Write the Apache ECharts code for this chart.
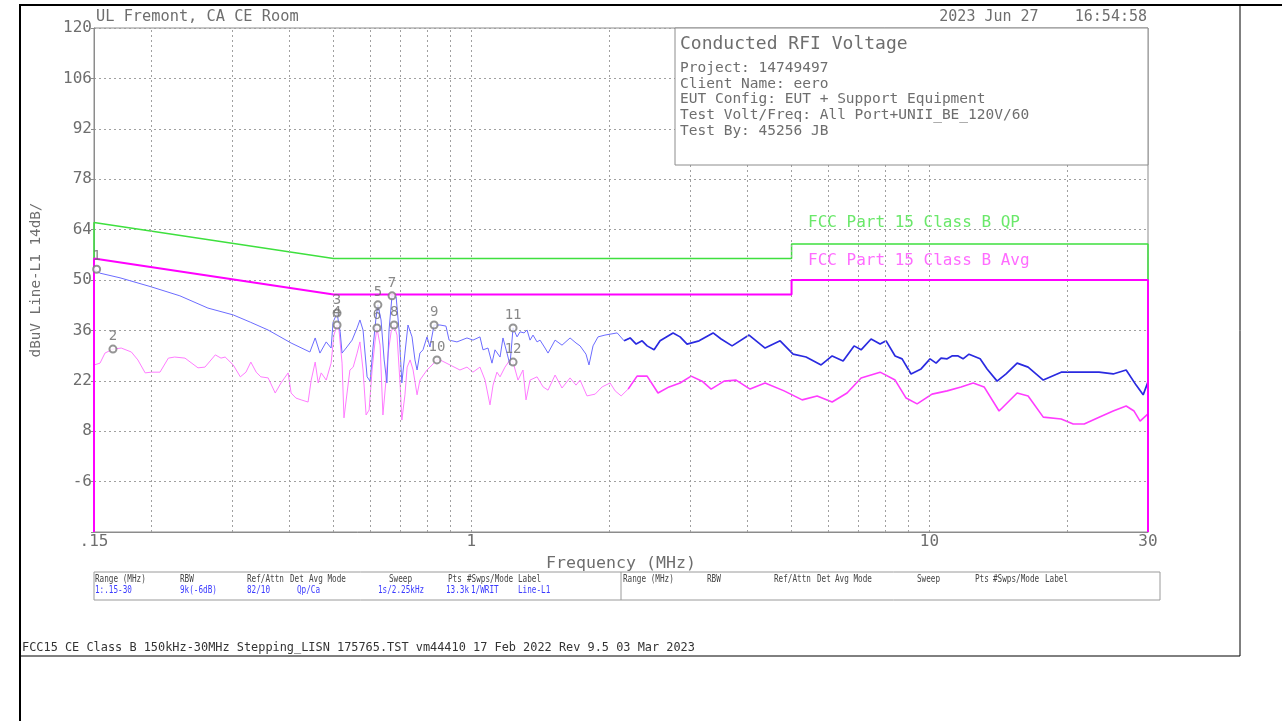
<!DOCTYPE html>
<html>
<head>
<meta charset="utf-8">
<title>Conducted RFI Voltage</title>
<script src="https://cdn.jsdelivr.net/npm/echarts@6/dist/echarts.min.js"></script>
<style>
  html, body { margin: 0; padding: 0; background: #fff; }
  #chart { width: 1282px; height: 721px; }
</style>
</head>
<body>
<div id="chart"></div>
<script>
// ---- Measured data (frequency in MHz, level in dBuV) ----
const blueTrace = [
  [0.150,53.0],[0.1546,51.9],[0.171,50.6],[0.200,48.1],[0.231,45.6],[0.266,42.2],[0.302,40.3],[0.329,38.3],
  [0.360,36.1],[0.404,32.5],[0.444,30.0],[0.456,33.9],[0.467,29.7],[0.482,32.8],[0.494,31.1],[0.499,38.3],
  [0.509,40.8],[0.517,35.6],[0.522,29.7],[0.535,31.4],[0.549,33.3],[0.563,36.7],[0.571,38.9],[0.580,36.1],
  [0.592,23.1],[0.601,21.9],[0.610,31.4],[0.619,39.4],[0.625,43.1],[0.635,38.9],[0.645,27.8],[0.654,21.4],
  [0.661,36.1],[0.671,45.6],[0.685,45.3],[0.695,36.1],[0.705,21.4],[0.716,29.7],[0.727,37.5],[0.742,34.2],
  [0.753,27.8],[0.761,25.0],[0.772,29.7],[0.784,30.6],[0.800,34.2],[0.812,31.4],[0.829,37.5],[0.854,37.5],
  [0.880,37.2],[0.894,33.3],[0.930,32.8],[0.978,33.9],[1.008,33.3],[1.044,34.2],[1.060,30.6],[1.087,31.1],
  [1.109,26.9],[1.126,30.6],[1.155,28.6],[1.172,33.9],[1.196,29.7],[1.214,26.4],[1.233,36.7],[1.258,34.2],
  [1.277,35.6],[1.303,35.3],[1.323,36.1],[1.343,33.3],[1.363,34.7],[1.391,32.8],[1.412,33.3],[1.448,31.1],
  [1.470,29.7],[1.523,33.3],[1.577,31.9],[1.642,33.9],[1.692,32.5],[1.727,31.7],[1.779,29.4],[1.806,26.4],
  [1.843,31.7],[1.890,34.2],[1.957,34.7],[2.081,35.3],[2.155,33.1],[2.221,33.9],[2.289,32.2],[2.359,33.1],
  [2.419,31.7],[2.505,30.6],[2.582,33.1],[2.756,35.3],[2.855,34.2],[2.957,32.2],[3.141,33.1],[3.370,35.3],
  [3.509,33.6],[3.708,31.7],[4.038,34.7],[4.377,31.1],[4.721,33.1],[5.039,29.4],[5.378,28.6],[5.801,26.4],
  [6.132,28.9],[6.479,27.5],[6.846,31.7],[7.092,30.6],[7.457,33.6],[7.803,32.2],[8.042,33.1],[8.414,28.9],
  [8.715,28.1],[9.117,23.9],[9.588,25.3],[10.03,28.1],[10.34,26.9],[10.60,28.3],[10.93,28.1],[11.20,28.9],
  [11.55,28.9],[11.84,28.1],[12.20,29.4],[12.90,28.1],[13.36,25.3],[14.05,21.9],[14.70,23.9],[15.54,26.9],
  [16.42,25.8],[17.72,22.2],[19.39,24.4],[21.33,24.4],[23.46,24.4],[25.18,23.9],[26.88,25.0],[28.26,20.8],
  [29.28,18.1],[30.0,21.7]
];

const pinkTrace = [
  [0.150,26.4],[0.1546,26.9],[0.1585,29.7],[0.165,30.8],[0.172,31.1],[0.181,30.0],[0.187,27.8],[0.194,24.2],
  [0.200,24.4],[0.209,24.4],[0.218,28.3],[0.225,28.6],[0.237,28.3],[0.253,25.6],[0.262,25.8],[0.276,29.2],
  [0.284,28.3],[0.290,28.6],[0.302,26.4],[0.313,23.1],[0.322,24.4],[0.330,27.2],[0.339,24.4],[0.347,23.1],
  [0.360,22.8],[0.373,18.6],[0.384,21.4],[0.398,24.2],[0.404,18.6],[0.414,17.2],[0.425,16.7],[0.440,16.1],
  [0.447,22.2],[0.456,27.2],[0.463,21.4],[0.470,24.2],[0.482,22.2],[0.494,26.9],[0.501,34.7],[0.509,37.5],
  [0.514,36.1],[0.522,26.9],[0.527,11.7],[0.543,25.0],[0.552,25.8],[0.563,29.7],[0.571,32.8],[0.580,25.0],
  [0.589,12.5],[0.598,13.9],[0.607,25.0],[0.616,32.8],[0.622,36.7],[0.632,31.9],[0.641,12.5],[0.651,22.2],
  [0.658,29.7],[0.668,35.6],[0.678,37.5],[0.688,34.7],[0.699,20.8],[0.705,11.1],[0.716,18.1],[0.724,25.8],
  [0.735,27.8],[0.746,25.0],[0.761,18.1],[0.772,22.2],[0.800,25.0],[0.812,25.8],[0.841,27.8],[0.854,27.8],
  [0.898,26.4],[0.944,25.0],[0.978,25.8],[1.008,24.4],[1.044,25.8],[1.071,22.2],[1.098,15.3],[1.115,20.8],
  [1.137,24.4],[1.155,23.1],[1.184,25.8],[1.214,27.8],[1.233,27.2],[1.264,22.2],[1.296,25.0],[1.316,16.7],
  [1.343,22.2],[1.391,23.1],[1.434,20.3],[1.470,19.4],[1.523,23.6],[1.577,20.0],[1.642,22.8],[1.692,20.8],
  [1.727,22.2],[1.788,17.8],[1.863,18.3],[1.929,20.3],[2.008,21.4],[2.060,19.2],[2.123,17.8],[2.199,19.7],
  [2.300,23.3],[2.419,23.3],[2.555,18.6],[2.701,20.3],[2.855,21.4],[3.018,23.3],[3.189,21.9],[3.337,19.7],
  [3.562,21.9],[3.783,22.2],[4.059,19.7],[4.377,21.4],[4.816,19.2],[5.274,16.7],[5.685,17.8],[6.132,16.1],
  [6.609,18.6],[7.092,22.8],[7.803,24.4],[8.414,22.2],[8.892,17.2],[9.399,15.6],[10.13,18.3],[10.93,19.2],
  [11.72,20.3],[12.46,21.4],[13.16,20.3],[14.19,13.6],[15.54,18.6],[16.42,17.8],[17.72,11.9],[19.39,11.4],
  [20.60,10.0],[21.77,10.0],[23.46,11.9],[25.18,13.6],[26.88,15.0],[27.97,13.6],[28.83,10.8],[30.0,12.8]
];

// FCC Part 15 Class B limits, drawn down to the bottom of the scale at both ends
const qpLimit  = [[0.15,-20],[0.15,66],[0.5,56],[5,56],[5,60],[30,60],[30,-20]];
const avgLimit = [[0.15,-20],[0.15,56],[0.5,46],[5,46],[5,50],[30,50],[30,-20]];

// Numbered markers: [label, frequency, level]
const markers = [
  [1,0.152,53.0],[2,0.165,30.8],[3,0.509,40.8],[4,0.509,37.5],[5,0.625,43.1],[6,0.622,36.7],
  [7,0.671,45.6],[8,0.678,37.5],[9,0.829,37.5],[10,0.841,27.8],[11,1.233,36.7],[12,1.233,27.2]
];

// Axis ticks
const xLabelValues = [0.15, 1, 10, 30];
const xGridValues = [0.2,0.3,0.4,0.5,0.6,0.7,0.8,0.9,1,2,3,4,5,6,7,8,9,10,20];
const yMin = -20, yMax = 120, yStep = 14;

// Info panel and run table text
const headerLeft = 'UL Fremont, CA CE Room';
const headerRight = '2023 Jun 27    16:54:58';
const infoTitle = 'Conducted RFI Voltage';
const infoLines = [
  'Project: 14749497',
  'Client Name: eero',
  'EUT Config: EUT + Support Equipment',
  'Test Volt/Freq: All Port+UNII_BE_120V/60',
  'Test By: 45256 JB'
];
const tableHeads = ['Range (MHz)','RBW','Ref/Attn','Det','Avg Mode','Sweep','Pts','#Swps/Mode','Label'];
const tableValues = ['1:.15-30','9k(-6dB)','82/10','Qp/Ca','1s/2.25kHz','13.3k','1/WRIT','Line-L1'];
const footerText = 'FCC15 CE Class B 150kHz-30MHz Stepping_LISN 175765.TST vm44410 17 Feb 2022 Rev 9.5 03 Mar 2023';

// ---- Drawing ----
const FONT = 'DejaVu Sans Mono';
const GRAY = '#6e6e6e';
const SPLIT = 2.2; // the dense, heavier part of each sweep starts here

function withEdge(arr, lo, hi) {
  // include the neighbouring points so the two halves join
  const i0 = arr.findIndex(p => p[0] >= lo);
  let i1 = arr.length - 1;
  for (let i = 0; i < arr.length; i++) if (arr[i][0] <= hi) i1 = i;
  return arr.slice(Math.max(0, i0 - 1), Math.min(arr.length, i1 + 2));
}

const chart = echarts.init(document.getElementById('chart'), null, { renderer: 'canvas' });

const gL = 94, gT = 28, gW = 1054, gH = 504;

function txt(text, x, y, size, color, align) {
  return {
    type: 'text', z: 120, silent: true,
    style: {
      text: text, x: x, y: y, fill: color, font: size + 'px "' + FONT + '"',
      textAlign: align || 'left', align: align || 'left',
      textVerticalAlign: 'middle', verticalAlign: 'middle'
    }
  };
}
// narrow, tall lettering for the run table
function smallTxt(text, x, y, color) {
  return {
    type: 'text', z: 120, silent: true, x: x, y: y, scaleX: 0.8,
    style: {
      text: text, x: 0, y: 0, fill: color, font: '9.6px "' + FONT + '"',
      textAlign: 'left', align: 'left', textVerticalAlign: 'middle', verticalAlign: 'middle'
    }
  };
}
function ln(x1, y1, x2, y2, color, w) {
  return { type: 'line', z: 110, silent: true, shape: { x1, y1, x2, y2 }, style: { stroke: color, lineWidth: w || 1 } };
}

const graphics = [];
// outer page frame
graphics.push(ln(20, 5, 1282, 5, '#000', 2));
graphics.push(ln(20, 4, 20, 721, '#000', 2));
graphics.push(ln(1240, 5, 1240, 656, '#000', 1));
graphics.push(ln(20, 656, 1240, 656, '#000', 1));
// header
graphics.push(txt(headerLeft, 96, 17, 15.3, GRAY));
graphics.push(txt(headerRight, 1147, 17, 15, GRAY, 'right'));
// info panel
graphics.push({ type: 'rect', z: 105, silent: true, shape: { x: 675, y: 28, width: 473, height: 137 },
  style: { fill: '#fff', stroke: '#8c8c8c', lineWidth: 1 } });
graphics.push(txt(infoTitle, 680, 44, 18, GRAY));
infoLines.forEach((s, i) => graphics.push(txt(s, 680, 68 + i * 15.8, 14.5, GRAY)));
// limit names
graphics.push(txt('FCC Part 15 Class B QP', 808, 223, 16, '#6ae86a'));
graphics.push(txt('FCC Part 15 Class B Avg', 808, 261, 16, '#ff6cff'));
// run table
graphics.push({ type: 'rect', z: 105, silent: true, shape: { x: 94, y: 572, width: 1066, height: 28 },
  style: { fill: 'none', stroke: '#9a9a9a', lineWidth: 1 } });
graphics.push(ln(621, 572, 621, 600, '#9a9a9a', 1));
const colL = [95, 180, 247, 290, 309, 389, 448, 467, 518];
const colV = [95, 180, 247, 297, 378, 446, 471, 518];
const colR = [623, 707, 774, 817, 835, 917, 975, 993, 1045];
tableHeads.forEach((s, i) => graphics.push(smallTxt(s, colL[i], 579, '#444')));
tableHeads.forEach((s, i) => graphics.push(smallTxt(s, colR[i], 579, '#444')));
tableValues.forEach((s, i) => graphics.push(smallTxt(s, colV[i], 590, '#3b3bff')));
// footer
graphics.push(txt(footerText, 22, 648, 11.9, '#333'));

const lineBase = { type: 'line', showSymbol: false, symbol: 'none', silent: true, animation: false };

const option = {
  animation: false,
  backgroundColor: '#ffffff',
  grid: { left: gL, top: gT, width: gW, height: gH, show: true, borderColor: '#8c8c8c', borderWidth: 1, backgroundColor: 'transparent' },
  xAxis: {
    type: 'log', logBase: 10, min: 0.15, max: 30,
    axisLine: { show: true, onZero: false, lineStyle: { color: '#8c8c8c' } },
    axisTick: { show: false },
    splitLine: { show: false },
    axisLabel: {
      customValues: xLabelValues,
      color: GRAY, fontSize: 16, fontFamily: FONT, margin: 2,
      formatter: v => (Math.abs(v - 0.15) < 1e-6 ? '.15' : String(Math.round(v)))
    },
    name: 'Frequency (MHz)', nameLocation: 'middle', nameGap: 22,
    nameTextStyle: { color: GRAY, fontSize: 16.6, fontFamily: FONT }
  },
  yAxis: {
    type: 'value', min: yMin, max: yMax, interval: yStep,
    axisLine: { show: true, onZero: false, lineStyle: { color: '#8c8c8c' } },
    axisTick: { show: true, length: 3, lineStyle: { color: '#8c8c8c' } },
    splitLine: { show: true, lineStyle: { color: '#a0a0a0', type: [2, 3], width: 1 } },
    axisLabel: {
      color: GRAY, fontSize: 16, fontFamily: FONT, margin: 2,
      formatter: v => (v === yMin ? '' : String(v))
    },
    name: 'dBuV Line-L1 14dB/', nameLocation: 'middle', nameRotate: 90, nameGap: 51,
    nameTextStyle: { color: GRAY, fontSize: 14.3, fontFamily: FONT }
  },
  graphic: { elements: graphics },
  series: [
    Object.assign({}, lineBase, {
      name: 'grid', data: [], lineStyle: { width: 0 },
      markLine: {
        silent: true, symbol: 'none', animation: false,
        label: { show: false },
        lineStyle: { color: '#a0a0a0', type: [2, 3], width: 1 },
        data: xGridValues.map(v => ({ xAxis: v }))
      }
    }),
    Object.assign({}, lineBase, { name: 'pink-lo', data: withEdge(pinkTrace, 0, SPLIT).filter(p => p[0] <= SPLIT * 1.05),
      lineStyle: { color: '#ff7cff', width: 1 } }),
    Object.assign({}, lineBase, { name: 'pink-hi', data: withEdge(pinkTrace, SPLIT, 31),
      lineStyle: { color: '#ff3cff', width: 1.6 } }),
    Object.assign({}, lineBase, { name: 'blue-lo', data: withEdge(blueTrace, 0, SPLIT).filter(p => p[0] <= SPLIT * 1.05),
      lineStyle: { color: '#6c6cff', width: 1 } }),
    Object.assign({}, lineBase, { name: 'blue-hi', data: withEdge(blueTrace, SPLIT, 31),
      lineStyle: { color: '#2a2ae0', width: 1.7 } }),
    Object.assign({}, lineBase, { name: 'FCC Part 15 Class B QP', data: qpLimit,
      lineStyle: { color: '#3ee03e', width: 1.5 }, z: 4 }),
    Object.assign({}, lineBase, { name: 'FCC Part 15 Class B Avg', data: avgLimit,
      lineStyle: { color: '#ff00ff', width: 2 }, z: 5 }),
    {
      name: 'markers', type: 'scatter', silent: true, animation: false, z: 6,
      symbol: 'emptyCircle', symbolSize: 7,
      itemStyle: { color: '#7a7a7a', borderColor: '#7a7a7a', borderWidth: 1.2 },
      label: {
        show: true, position: 'top', distance: 1,
        color: '#6a6a6a', fontSize: 14, fontFamily: FONT,
        formatter: p => String(p.data[2])
      },
      data: markers.map(m => [m[1], m[2], m[0]])
    }
  ]
};

chart.setOption(option);
</script>
</body>
</html>
